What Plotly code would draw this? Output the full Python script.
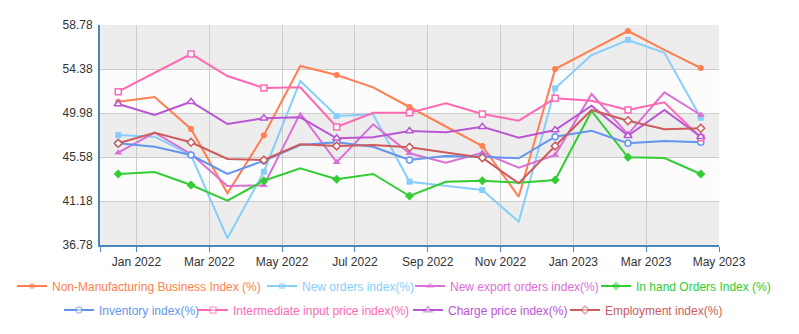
import plotly.graph_objects as go

months = ["Jan 2022", "Feb 2022", "Mar 2022", "Apr 2022", "May 2022", "Jun 2022",
          "Jul 2022", "Aug 2022", "Sep 2022", "Oct 2022", "Nov 2022", "Dec 2022",
          "Jan 2023", "Feb 2023", "Mar 2023", "Apr 2023", "May 2023"]

non_mfg = [51.1, 51.58, 48.38, 41.95, 47.75, 54.68, 53.78, 52.55, 50.58, 48.6, 46.68, 41.6,
           54.38, 56.3, 58.18, 56.3, 54.48]
new_orders = [47.78, 47.61, 45.78, 37.45, 44.11, 53.18, 49.68, 49.85, 43.11, 42.7, 42.28, 39.11,
              52.45, 55.78, 57.28, 56.01, 49.51]
new_export = [46.01, 48.01, 45.88, 42.68, 42.75, 49.95, 45.05, 48.85, 45.95, 45.0, 46.01, 44.51,
              45.78, 51.88, 47.85, 52.05, 49.78]
in_hand = [43.88, 44.08, 42.78, 41.21, 43.21, 44.45, 43.35, 43.88, 41.68, 43.11, 43.21, 43.01,
           43.28, 50.18, 45.55, 45.48, 43.88]
inventory = [46.95, 46.61, 45.78, 43.88, 45.21, 46.78, 47.05, 46.61, 45.28, 45.68, 45.61, 45.45,
             47.61, 48.21, 46.95, 47.18, 47.05]
intermediate = [52.11, 53.98, 55.88, 53.68, 52.48, 52.55, 48.58, 50.01, 50.01, 50.95, 49.88, 49.21,
                51.45, 51.21, 50.28, 51.05, 47.51]
charge = [50.88, 49.78, 51.11, 48.88, 49.45, 49.55, 47.45, 47.55, 48.18, 48.05, 48.61, 47.51,
          48.28, 50.71, 47.71, 50.28, 47.61]
employment = [46.95, 48.01, 47.05, 45.38, 45.28, 46.85, 46.68, 46.78, 46.55, 46.03, 45.51, 42.95,
              46.68, 50.28, 49.21, 48.35, 48.45]

yticks = [36.78, 41.18, 45.58, 49.98, 54.38, 58.78]

# name, values, colour, symbol, hollow, legend left (px), legend row
series = [
    ("Non-Manufacturing Business Index (%)", non_mfg, "#ff7f50", "circle", False, 12, 0),
    ("New orders index(%)", new_orders, "#87cefa", "square", False, 262, 0),
    ("New export orders index(%)", new_export, "#da70d6", "triangle-up", False, 410, 0),
    ("In hand Orders Index (%)", in_hand, "#32cd32", "diamond", False, 596, 0),
    ("Inventory index(%)", inventory, "#6495ed", "circle", True, 59, 1),
    ("Intermediate input price index(%)", intermediate, "#ff69b4", "square", True, 193, 1),
    ("Charge price index(%)", charge, "#ba55d3", "triangle-up", True, 408, 1),
    ("Employment index(%)", employment, "#cd5c5c", "diamond", True, 565, 1),
]

W, H = 799, 334
row_y = [1 - 286 / H, 1 - 310 / H]

x = list(range(len(months)))
marker_opacity = [1 if i % 2 == 0 else 0 for i in x]

fig = go.Figure()
legends = {}
for k, (name, vals, color, sym, empty, lx, row) in enumerate(series):
    lg = "legend" if k == 0 else f"legend{k + 1}"
    size = {"circle": 6, "square": 6, "triangle-up": 7, "diamond": 7}[sym]
    if empty and sym == "diamond":
        size = 6
    fig.add_trace(go.Scatter(
        x=x, y=vals, mode="lines+markers",
        name=f"<span style='color:{color}'>{name}</span>",
        legend=lg,
        line=dict(color=color, width=2),
        marker=dict(symbol=sym, size=size,
                    color="white" if empty else color,
                    opacity=marker_opacity,
                    line=dict(color=color, width=1.5 if empty else 0)),
    ))
    legends[lg] = dict(orientation="h", xref="container", yref="container",
                       x=lx / W, xanchor="left", y=row_y[row], yanchor="middle",
                       font=dict(size=12), bgcolor="rgba(0,0,0,0)")

shapes = []
for k in range(len(yticks) - 1):
    if k % 2 == 1:
        shapes.append(dict(type="rect", xref="paper", yref="y", x0=0, x1=1,
                           y0=yticks[k], y1=yticks[k + 1], fillcolor="#fcfcfc",
                           line=dict(width=0), layer="below"))

tick_pos = [-0.5] + [i + 0.5 for i in x[::2]]
tick_txt = [""] + months[::2]

axis_color = "#4a86b8"
fig.update_layout(
    width=W, height=H,
    margin=dict(l=100, r=80, t=25, b=89, autoexpand=False),
    paper_bgcolor="white", plot_bgcolor="#ededed",
    font=dict(family="Arial, Liberation Sans, sans-serif", size=12, color="#333333"),
    shapes=shapes,
    showlegend=True,
    **legends,
    xaxis=dict(range=[-0.5, len(months) - 0.5], tickvals=tick_pos, ticktext=tick_txt,
               showgrid=True, gridcolor="#cccccc", gridwidth=1,
               showline=True, linecolor=axis_color, linewidth=2,
               ticks="outside", ticklen=5, tickcolor=axis_color, tickwidth=1,
               zeroline=False, tickfont=dict(size=12, color="#333333")),
    yaxis=dict(range=[yticks[0], yticks[-1]], tickvals=yticks,
               ticktext=[f"{v:.2f}" for v in yticks],
               showgrid=True, gridcolor="#cccccc", gridwidth=1,
               showline=True, linecolor=axis_color, linewidth=2,
               ticks="", zeroline=False, ticklabelstandoff=3,
               tickfont=dict(size=12, color="#333333")),
)

fig.write_html("out.html")
